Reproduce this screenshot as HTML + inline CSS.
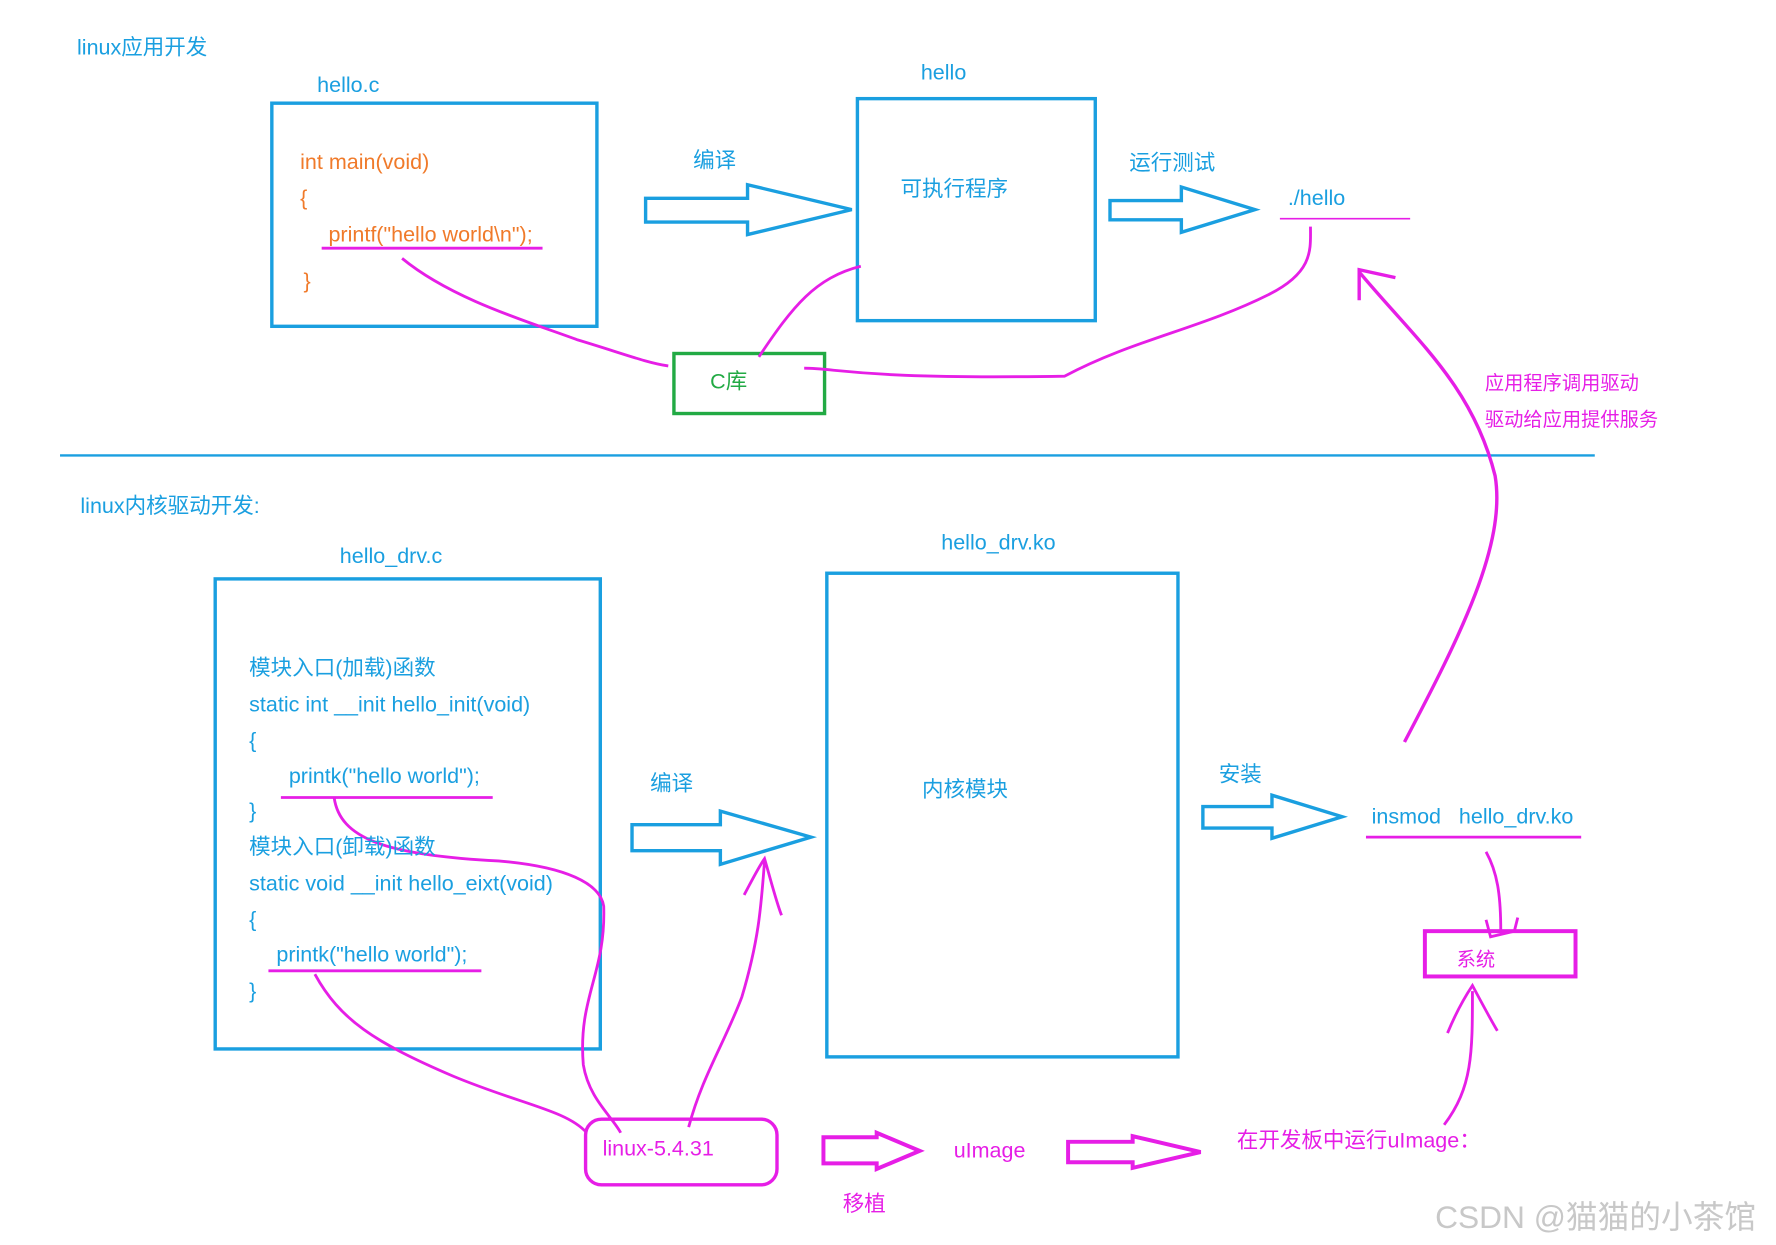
<!DOCTYPE html>
<html><head><meta charset="utf-8"><style>
html,body{margin:0;padding:0;background:#fff;}
svg{display:block;}
text{font-family:"Liberation Sans","Noto Sans CJK SC",sans-serif;font-size:19px;}
.b{fill:#1a9fe0}.o{fill:#f07a2a}.m{fill:#e61ee6}.g{fill:#22aa44}
</style></head><body>
<svg width="1776" height="1245" viewBox="0 0 1568 1099" xmlns="http://www.w3.org/2000/svg">
<g fill="none" stroke="#1a9fe0" stroke-width="3">
<rect x="240" y="91" width="287" height="197"/>
<rect x="757" y="87" width="210" height="196"/>
<rect x="190" y="511" width="340" height="415"/>
<rect x="730" y="506" width="310" height="427"/>
<path d="M570 175 H660 V163 L752 185 L660 207 V196 H570 Z"/>
<path d="M980 177 H1043 V165 L1108 185 L1043 205 V194 H980 Z"/>
<path d="M558 728 H636 V716 L716 739 L636 763 V751 H558 Z"/>
<path d="M1062 712 H1123 V702 L1185 721 L1123 740 V731 H1062 Z"/>
</g>
<line x1="53" y1="402" x2="1408" y2="402" stroke="#1a9fe0" stroke-width="2"/>
<rect x="595" y="312" width="133" height="53" fill="none" stroke="#22aa44" stroke-width="3"/>
<g fill="none" stroke="#e61ee6" stroke-width="2.5">
<line x1="284" y1="219" x2="479" y2="219"/>
<line x1="1130" y1="193" x2="1245" y2="193" stroke-width="1.5"/>
<line x1="248" y1="704" x2="435" y2="704"/>
<line x1="237" y1="857" x2="425" y2="857"/>
<line x1="1206" y1="739" x2="1396" y2="739"/>
<rect x="1258" y="822" width="133" height="40" stroke-width="3.5"/>
<rect x="517" y="988" width="169" height="58" rx="14" stroke-width="3"/>
<path d="M727 1004 H774 V1000 L812 1016 L774 1032 V1027 H727 Z" stroke-width="3.5"/>
<path d="M943 1008 H1000 V1003 L1060 1017 L1000 1031 V1026 H943 Z" stroke-width="3.5"/>
<path d="M355 228 C400 265 470 285 510 300 C550 312 570 320 590 323"/>
<path d="M670 315 C700 270 720 245 760 235"/>
<path d="M710 325 C740 325 760 335 940 332 C1000 300 1060 290 1120 260 C1160 240 1157 220 1157 200"/>
<path d="M1240 655 C1290 560 1330 480 1320 420 C1300 340 1250 300 1200 240" stroke-width="3"/>
<path d="M1200 265 L1200 238 L1232 245" stroke-width="3"/>
<path d="M1312 752 C1322 770 1325 790 1325 822"/>
<path d="M1312 812 L1316 827 L1337 822 L1340 810"/>
<path d="M1275 993 C1300 960 1300 930 1300 875"/>
<path d="M1278 912 C1285 895 1292 882 1300 870 C1308 885 1316 900 1322 910"/>
<path d="M295 704 C300 740 340 755 440 760 C500 765 530 780 533 800 C535 860 510 880 515 940 C520 970 540 985 548 1000"/>
<path d="M278 860 C300 900 330 920 400 950 C460 975 500 980 518 1000"/>
<path d="M608 995 C620 950 640 920 655 880 C670 830 672 800 675 760"/>
<path d="M657 790 C665 775 670 765 675 758 C680 775 685 795 690 808"/>
</g>
<text x="68" y="48" class="b">linux应用开发</text>
<text x="280" y="81" class="b">hello.c</text>
<text x="265" y="149" class="o">int main(void)</text>
<text x="265" y="181" class="o">{</text>
<text x="290" y="213" class="o">printf("hello world\n");</text>
<text x="268" y="254" class="o">}</text>
<text x="612" y="148" class="b">编译</text>
<text x="813" y="70" class="b">hello</text>
<text x="795" y="173" class="b">可执行程序</text>
<text x="997" y="150" class="b">运行测试</text>
<text x="1137" y="181" class="b">./hello</text>
<text x="627" y="343" class="g">C库</text>
<text x="1311" y="344" class="m" style="font-size:17px">应用程序调用驱动</text>
<text x="1311" y="376" class="m" style="font-size:17px">驱动给应用提供服务</text>
<text x="71" y="453" class="b">linux内核驱动开发:</text>
<text x="300" y="497" class="b">hello_drv.c</text>
<text x="220" y="596" class="b">模块入口(加载)函数</text>
<text x="220" y="628" class="b">static int __init hello_init(void)</text>
<text x="220" y="660" class="b">{</text>
<text x="255" y="691" class="b">printk("hello world");</text>
<text x="220" y="722" class="b">}</text>
<text x="220" y="754" class="b">模块入口(卸载)函数</text>
<text x="220" y="786" class="b">static void __init hello_eixt(void)</text>
<text x="220" y="818" class="b">{</text>
<text x="244" y="849" class="b">printk("hello world");</text>
<text x="220" y="881" class="b">}</text>
<text x="574" y="698" class="b">编译</text>
<text x="831" y="485" class="b">hello_drv.ko</text>
<text x="814" y="703" class="b">内核模块</text>
<text x="1076" y="690" class="b">安装</text>
<text x="1211" y="727" class="b">insmod&#160;&#160;&#160;hello_drv.ko</text>
<text x="1286" y="853" class="m" style="font-size:17px">系统</text>
<text x="532" y="1020" class="m">linux-5.4.31</text>
<text x="842" y="1022" class="m">uImage</text>
<text x="744" y="1069" class="m">移植</text>
<text x="1092" y="1013" class="m">在开发板中运行uImage：</text>
<text x="1267" y="1084" style="font-size:28px;fill:#c8c8c8">CSDN @猫猫的小茶馆</text>
</svg>
</body></html>
